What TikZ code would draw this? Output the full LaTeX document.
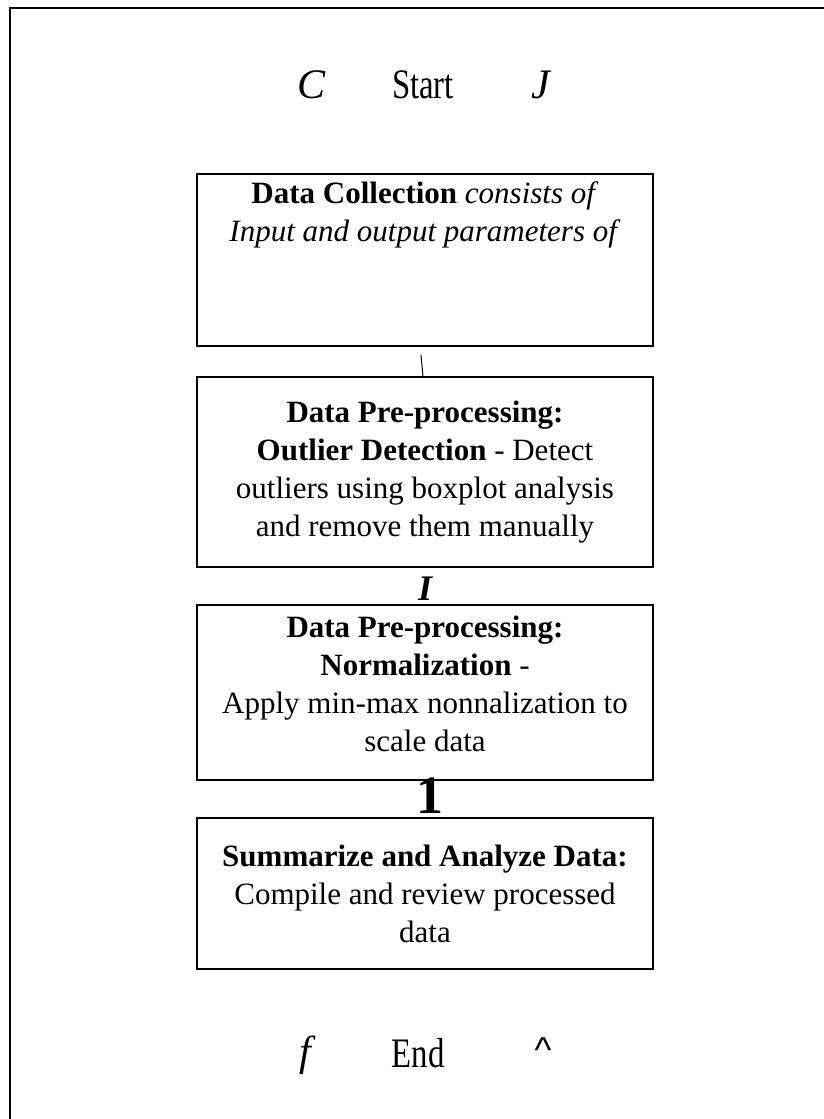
\documentclass[tikz,border=0pt]{standalone}
\usepackage{fontspec}
\setmainfont{Liberation Serif}
\newfontfamily\caretfont{Liberation Sans}
\usetikzlibrary{positioning}

\begin{document}
\begin{tikzpicture}[x=1pt, y=-1pt,
        procbox/.style={draw, line width=1.2pt, minimum width=456pt, align=center, inner sep=0pt, font=\fontsize{31}{38}\selectfont},
        boxtext/.style={align=center, inner sep=0pt, font=\fontsize{31}{38}\selectfont},
        term/.style={inner sep=0pt, font=\fontsize{42}{44}\selectfont},
        glyph/.style={inner sep=0pt, font=\fontsize{42}{44}\selectfont\itshape},
        line/.style={line width=1pt},
        frame/.style={line width=2pt}
    ]
        \useasboundingbox (0,0) rectangle (824,1119);
        \draw[frame] (10,1119) -- (10,8) -- (824,8);

        % -- start row --
        \node[term]  (start)  at (423,85) {\scalebox{0.78}[1]{Start}};
        \node[glyph] (startl) at (312,85) {C};
        \node[glyph] (startr) at (541,85) {J};

        % -- process boxes --
        \node[procbox, minimum height=172pt] (collect) at (425,260) {};
        \node[boxtext, below=8pt of collect.north] (collecttext)
            {\textbf{Data Collection} \textit{consists of}\\ \textit{Input and output parameters of}};
        \node[procbox, minimum height=190pt] (outlier) at (425,472)
            {\textbf{Data Pre-processing:}\\ \textbf{Outlier Detection} - Detect\\ outliers using boxplot analysis\\ and remove them manually};
        \node[procbox, minimum height=175pt] (normal) at (425,692.5)
            {\textbf{Data Pre-processing:}\\ \textbf{Normalization} -\\ Apply min-max nonnalization to\\ scale data\\[-20pt]};
        \node[procbox, minimum height=151pt] (summary) at (425,893.5)
            {\textbf{Summarize and Analyze Data:}\\ Compile and review processed\\ data};

        % marks between the boxes
        \coordinate (tick) at (421,355);
        \draw[line] (tick) -- ([xshift=-2pt]outlier.north);
        \node[inner sep=0pt, font=\fontsize{36}{37}\selectfont\bfseries\itshape] (arrI) at (425,589) {I};
        \node[inner sep=0pt, font=\fontsize{54}{56}\selectfont\bfseries] (arr1) at (430,796) {1};

        % -- end row --
        \node[term]  (end)  at (418,1053) {\scalebox{0.78}[1]{End}};
        \node[glyph] (endl) at (305,1055) {f};
        \node[inner sep=0pt, font=\fontsize{36}{38}\caretfont] (endr) at (543,1050) {\textasciicircum};
    \end{tikzpicture}
\end{document}
